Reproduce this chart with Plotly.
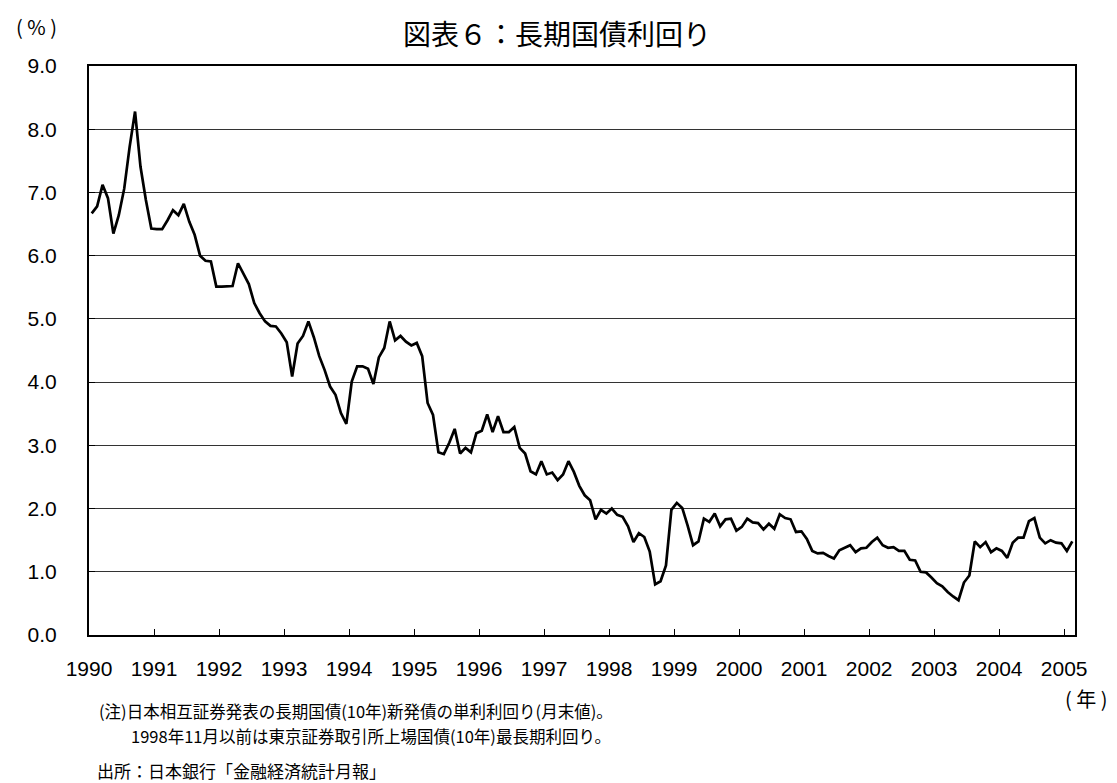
import plotly.graph_objects as go

# Monthly long-term JGB yield (%), Jan 1990 - Feb 2005
years = ["1990", "1991", "1992", "1993", "1994", "1995", "1996", "1997",
         "1998", "1999", "2000", "2001", "2002", "2003", "2004", "2005"]

yield_1990 = [6.67, 6.78, 7.12, 6.91, 6.35, 6.64, 7.06, 7.72, 8.28, 7.41, 6.88, 6.43]
yield_1991 = [6.42, 6.42, 6.56, 6.72, 6.64, 6.82, 6.54, 6.33, 6.00, 5.92, 5.91, 5.51]
yield_1992 = [5.51, 5.51, 5.52, 5.88, 5.72, 5.55, 5.25, 5.09, 4.96, 4.89, 4.88, 4.77]
yield_1993 = [4.63, 4.09, 4.61, 4.73, 4.96, 4.71, 4.41, 4.19, 3.93, 3.80, 3.51, 3.34]
yield_1994 = [4.01, 4.25, 4.25, 4.21, 3.97, 4.39, 4.54, 4.96, 4.66, 4.73, 4.64, 4.58]
yield_1995 = [4.62, 4.41, 3.67, 3.48, 2.89, 2.86, 3.04, 3.26, 2.87, 2.96, 2.89, 3.19]
yield_1996 = [3.23, 3.49, 3.21, 3.46, 3.21, 3.21, 3.29, 2.96, 2.87, 2.59, 2.54, 2.75]
yield_1997 = [2.54, 2.57, 2.45, 2.54, 2.75, 2.58, 2.36, 2.21, 2.13, 1.83, 1.98, 1.92]
yield_1998 = [2.00, 1.90, 1.87, 1.72, 1.47, 1.61, 1.55, 1.32, 0.80, 0.85, 1.10, 1.98]
yield_1999 = [2.09, 2.01, 1.73, 1.42, 1.48, 1.84, 1.79, 1.92, 1.72, 1.83, 1.84, 1.65]
yield_2000 = [1.71, 1.84, 1.78, 1.77, 1.67, 1.76, 1.68, 1.91, 1.85, 1.83, 1.63, 1.64]
yield_2001 = [1.52, 1.33, 1.29, 1.30, 1.25, 1.21, 1.34, 1.38, 1.42, 1.31, 1.37, 1.38]
yield_2002 = [1.47, 1.54, 1.42, 1.38, 1.39, 1.33, 1.33, 1.19, 1.18, 1.00, 0.99, 0.91]
yield_2003 = [0.82, 0.77, 0.68, 0.61, 0.55, 0.83, 0.94, 1.48, 1.39, 1.47, 1.31, 1.37]
yield_2004 = [1.33, 1.22, 1.46, 1.54, 1.54, 1.80, 1.85, 1.54, 1.45, 1.50, 1.46, 1.45]
yield_2005 = [1.33, 1.48]

y_ticks = [0, 1, 2, 3, 4, 5, 6, 7, 8, 9]
y_labels = ["0.0", "1.0", "2.0", "3.0", "4.0", "5.0", "6.0", "7.0", "8.0", "9.0"]

values = (yield_1990 + yield_1991 + yield_1992 + yield_1993 + yield_1994 + yield_1995
          + yield_1996 + yield_1997 + yield_1998 + yield_1999 + yield_2000 + yield_2001
          + yield_2002 + yield_2003 + yield_2004 + yield_2005)
n = len(values)
xs = [i + 0.5 for i in range(n)]  # category centres (months)
tickvals = [12 * k for k in range(len(years))]

# plot area in pixels
W, H = 1117, 783
L, R, T, B = 89, 42, 66, 148
PW, PH = W - L - R, H - T - B


def px(x):
    return (x - L) / PW


def py(y):
    return (H - B - y) / PH


fig = go.Figure()
fig.add_trace(go.Scatter(x=xs, y=values, mode="lines",
                         line=dict(color="black", width=2.7), hoverinfo="skip",
                         showlegend=False))

tickfont = dict(family="Liberation Sans, Arial, sans-serif", size=21, color="black")
cjk = "Noto Sans CJK JP, sans-serif"

fig.update_layout(
    width=W, height=H,
    margin=dict(l=L, r=R, t=T, b=B),
    paper_bgcolor="white", plot_bgcolor="white",
    showlegend=False,
    xaxis=dict(range=[0, n], tickvals=tickvals, ticktext=years,
               ticks="inside", ticklen=6, tickwidth=1, tickcolor="black",
               showgrid=False, zeroline=False,
               showline=True, linecolor="black", linewidth=2, mirror=True,
               tickfont=tickfont, ticklabelstandoff=14),
    yaxis=dict(range=[0, 9], tickvals=y_ticks, ticktext=y_labels,
               ticks="inside", ticklen=6, tickwidth=1, tickcolor="black",
               showgrid=True, gridcolor="#333333", gridwidth=1, zeroline=False,
               showline=True, linecolor="black", linewidth=2, mirror=True,
               tickfont=tickfont, ticklabelstandoff=26),
)

ann = [
    dict(text="図表６：長期国債利回り", x=px(557), y=py(33), size=28, xanchor="center"),
    dict(text="( % )", x=px(36), y=py(27), size=20, xanchor="center"),
    dict(text="( 年 )", x=px(1086), y=py(698), size=20, xanchor="center"),
    dict(text="(注)日本相互証券発表の長期国債(10年)新発債の単利利回り(月末値)。",
         x=px(97), y=py(711), size=16.5, xanchor="left"),
    dict(text="1998年11月以前は東京証券取引所上場国債(10年)最長期利回り。",
         x=px(129), y=py(736), size=16.5, xanchor="left"),
    dict(text="出所：日本銀行「金融経済統計月報」",
         x=px(95), y=py(770), size=17, xanchor="left"),
]
for a in ann:
    fig.add_annotation(text=a["text"], x=a["x"], y=a["y"], xref="paper", yref="paper",
                       xanchor=a["xanchor"], yanchor="middle", showarrow=False,
                       font=dict(family=cjk, size=a["size"], color="black"))

fig.write_html("out.html")
